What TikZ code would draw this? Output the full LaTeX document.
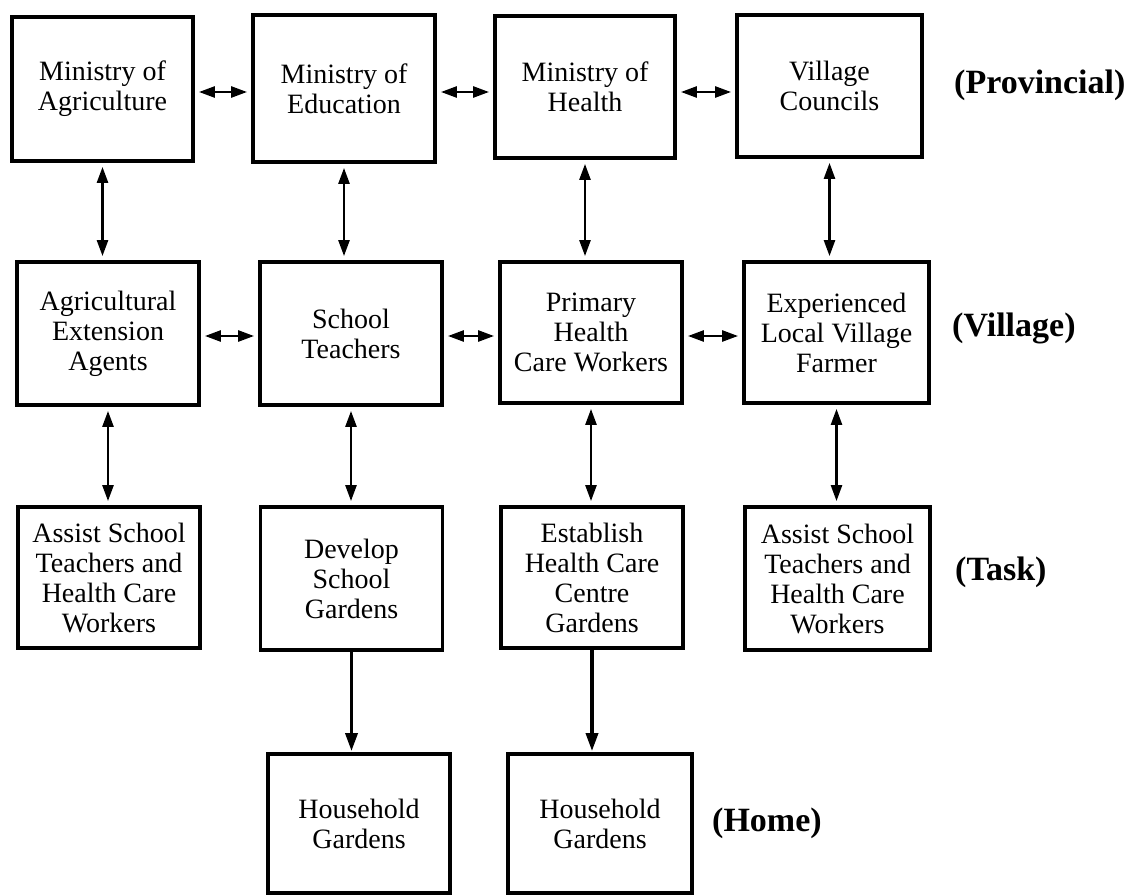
\documentclass[tikz,border=0pt]{standalone}
\usepackage{fontspec}
\setmainfont{Liberation Serif}
\usetikzlibrary{arrows.meta}
\begin{document}
\begin{tikzpicture}[x=1pt,y=-1pt,
  box/.style={draw, line width=3.8pt, rectangle, inner sep=0pt, align=center,
    minimum width=182pt, minimum height=143pt, font=\fontsize{28}{30}\selectfont},
  lvl/.style={anchor=west, inner sep=0pt, font=\fontsize{34}{36}\selectfont\bfseries},
  tip/.tip={Triangle[length=16pt,width=11pt]},
  bigtip/.tip={Triangle[length=18pt,width=12pt]},
  dbl/.style={line width=2.5pt, tip-tip, shorten <=4pt, shorten >=4pt},
  one/.style={line width=3.5pt, -bigtip, shorten >=1pt}]
\useasboundingbox (0,0) rectangle (1132,896);
% row 1
\node[box, minimum width=181pt, minimum height=144pt] (A1) at (102.5,89) {Ministry of\\Agriculture};
\node[box, minimum height=147pt] (B1) at (344,88.5) {Ministry of\\Education};
\node[box, minimum width=180pt, minimum height=142pt] (C1) at (585,87) {Ministry of\\Health};
\node[box, minimum width=185pt, minimum height=142pt] (D1) at (829.5,86) {Village\\Councils};
% row 2
\node[box] (A2) at (108,333.5) {Agricultural\\Extension\\Agents};
\node[box] (B2) at (351,333.5) {School\\Teachers};
\node[box, minimum height=141pt] (C2) at (591,332.5) {Primary\\Health\\Care Workers};
\node[box, minimum width=185pt, minimum height=141pt] (D2) at (836.5,332.5) {Experienced\\Local Village\\Farmer};
% row 3
\node[box, minimum height=141pt] (A3) at (109,577.5) {Assist School\\Teachers and\\Health Care\\Workers};
\node[box] (B3) at (351.5,578.5) {Develop\\School\\Gardens};
\node[box, minimum height=141pt] (C3) at (592,577.5) {Establish\\Health Care\\Centre\\Gardens};
\node[box, minimum width=185pt] (D3) at (837.5,578.5) {Assist School\\Teachers and\\Health Care\\Workers};
% row 4
\node[box, minimum height=139pt] (A4) at (359,823.5) {Household\\Gardens};
\node[box, minimum width=184pt, minimum height=139pt] (B4) at (600,823.5) {Household\\Gardens};
% level labels
\node[lvl] (Lprov) at (954,85) {(Provincial)};
\node[lvl] (Lvill) at (952,328) {(Village)};
\node[lvl] (Ltask) at (955,572) {(Task)};
\node[lvl] (Lhome) at (712,823) {(Home)};
% horizontal connectors
\coordinate (r1) at (0,92);
\coordinate (r2) at (0,336);
\draw[dbl] (A1.east |- r1) -- (B1.west |- r1);
\draw[dbl] (B1.east |- r1) -- (C1.west |- r1);
\draw[dbl] (C1.east |- r1) -- (D1.west |- r1);
\draw[dbl] (A2.east |- r2) -- (B2.west |- r2);
\draw[dbl] (B2.east |- r2) -- (C2.west |- r2);
\draw[dbl] (C2.east |- r2) -- (D2.west |- r2);
% vertical connectors
\draw[dbl] (A1.south) -- (A1.south |- A2.north);
\draw[dbl] (B1.south) -- (B1.south |- B2.north);
\draw[dbl] (C1.south) -- (C1.south |- C2.north);
\draw[dbl] (D1.south) -- (D1.south |- D2.north);
\draw[dbl] (A2.south) -- (A2.south |- A3.north);
\draw[dbl] (B2.south) -- (B2.south |- B3.north);
\draw[dbl] (C2.south) -- (C2.south |- C3.north);
\draw[dbl] (D2.south) -- (D2.south |- D3.north);
\draw[one] (B3.south) -- (B3.south |- A4.north);
\draw[one] (C3.south) -- (C3.south |- B4.north);
\end{tikzpicture}
\end{document}
